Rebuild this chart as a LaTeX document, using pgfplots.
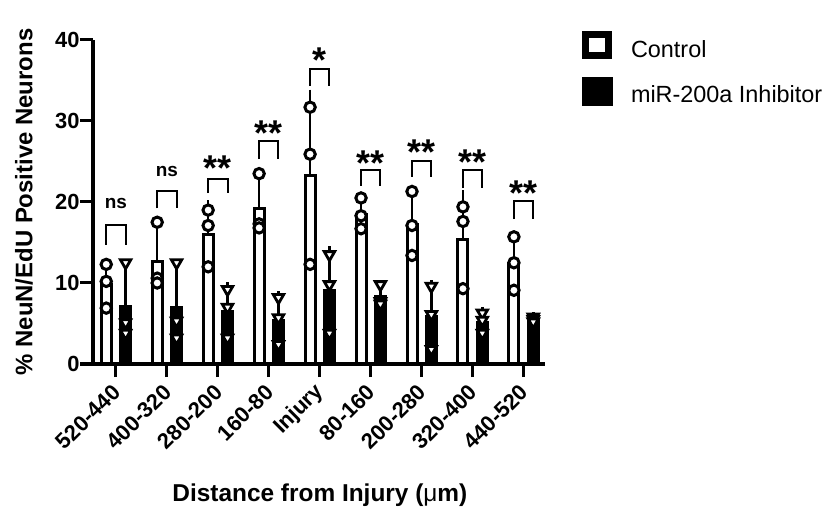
\documentclass[border=0pt]{standalone}
\usepackage{fontspec}
\setmainfont{Liberation Sans}
\usepackage{pgfplots}
\usepackage{pgfplotstable}
\pgfplotsset{compat=1.18}

% bars: x position, mean, SD
\pgfplotstableread{
x m e
-0.19 9.80 2.72
0.81 12.70 4.17
1.81 16.00 3.62
2.81 19.20 3.73
3.81 23.30 9.96
4.81 18.50 1.91
5.81 17.27 3.95
6.81 15.43 5.39
7.81 12.43 3.30
}\ctrlbars
\pgfplotstableread{
x m e
0.19 7.13 4.69
1.19 7.00 4.88
2.19 6.43 3.02
3.19 5.43 2.91
4.19 9.03 4.90
5.19 8.30 1.31
6.19 5.83 3.90
7.19 5.17 1.27
8.19 5.50 0.30
}\inhbars
\pgfplotstableread{
x y
-0.19 12.3
-0.19 10.2
-0.19 6.9
0.81 17.5
0.81 10.6
0.81 10.0
1.81 19.0
1.81 17.1
1.81 12.0
2.81 23.5
2.81 17.3
2.81 16.8
3.81 31.7
3.81 25.9
3.81 12.3
4.81 20.5
4.81 18.3
4.81 16.7
5.81 21.3
5.81 17.1
5.81 13.4
6.81 19.4
6.81 17.6
6.81 9.3
7.81 15.7
7.81 12.5
7.81 9.1
}\ctrlpts
\pgfplotstableread{
x y
0.19 12.5
0.19 5.1
0.19 3.8
1.19 12.5
1.19 5.3
1.19 3.2
2.19 9.2
2.19 7.0
2.19 3.2
3.19 8.2
3.19 5.7
3.19 2.4
4.19 13.5
4.19 9.8
4.19 3.8
5.19 9.8
5.19 7.7
5.19 7.4
6.19 9.6
6.19 6.1
6.19 1.8
7.19 6.3
7.19 5.4
7.19 3.8
8.19 5.8
8.19 5.5
8.19 5.2
}\inhpts

\begin{document}
\begin{tikzpicture}
\useasboundingbox (0,0) rectangle (833bp,510bp);
\begin{axis}[
  at={(93bp,146bp)}, anchor=south west,
  scale only axis, width=452bp, height=324bp,
  xmin=-0.45, xmax=8.42, ymin=0, ymax=40,
  clip=false,
  axis x line*=bottom, axis y line*=left,
  axis line style={-, line width=3bp, black},
  tick align=outside, major tick length=13bp,
  tick style={line width=3bp, black},
  xtick={0,1,2,3,4,5,6,7,8},
  xticklabels={520-440,400-320,280-200,160-80,Injury,80-160,200-280,320-400,440-520},
  ytick={0,10,20,30,40},
  yticklabels={0,10,20,30,40},
  yticklabel style={font=\bfseries\fontsize{22}{22}\selectfont, xshift=3bp},
  xticklabel style={font=\bfseries\fontsize{22}{22}\selectfont, yshift=-9bp, xshift=3bp, rotate=45, anchor=east},
  ylabel={\% NeuN/EdU Positive Neurons},
  ylabel style={font=\bfseries\fontsize{24}{24}\selectfont, at={(axis description cs:-0.153,0.5)}, anchor=center},
  xlabel={Distance from Injury ({\mdseries μ}m)},
  xlabel style={font=\bfseries\fontsize{24.5}{24.5}\selectfont, at={(axis description cs:0.502,-0.425)}, anchor=base},
  legend style={draw=none, fill=none, inner sep=0pt, outer sep=0pt,
    at={(1.081,1.029)}, anchor=north west,
    font=\fontsize{23.5}{23.5}\selectfont, row sep=18bp,
    /tikz/every odd column/.append style={column sep=19bp},
    nodes={inner sep=0pt}},
  legend cell align=left,
]
% bars
\addplot[forget plot, ybar, bar width=10bp, bar shift=0pt, fill=white, draw=black, line width=3bp,
  error bars/.cd, y dir=plus, y explicit,
  error bar style={line width=2.5bp, black},
  error mark options={line width=2.5bp, mark size=5bp, black}]
  table[x=x, y=m, y error=e] {\ctrlbars};
\addplot[forget plot, ybar, bar width=10bp, bar shift=0pt, fill=black, draw=black, line width=3bp,
  error bars/.cd, y dir=plus, y explicit,
  error bar style={line width=2.5bp, black},
  error mark options={line width=2.5bp, mark size=5bp, black}]
  table[x=x, y=m, y error=e] {\inhbars};
% points
\addplot[forget plot, only marks, mark=*, mark size=5.2bp,
  mark options={fill=white, draw=black, line width=3bp}]
  table[x=x, y=y] {\ctrlpts};
\addplot[forget plot, only marks, mark=triangle*, mark size=6bp,
  mark options={rotate=180, fill=white, draw=black, line width=2.8bp}]
  table[x=x, y=y] {\inhpts};
% significance brackets
\foreach \g/\t/\b in {0/17.2/14.7, 1/21.3/19.2, 2/22.8/21.1, 3/27.5/25.3, 4/36.4/34.3, 5/23.9/22.0, 6/25.0/23.1, 7/23.9/21.7, 8/20.1/17.9}{
  \edef\tmp{\noexpand\draw[line width=2bp, black] (axis cs:\g-0.19,\b) -- (axis cs:\g-0.19,\t) -- (axis cs:\g+0.19,\t) -- (axis cs:\g+0.19,\b);}
  \tmp
}
\node[anchor=base, yshift=-6bp, font=\bfseries\fontsize{19}{19}\selectfont] at (axis cs:0,19.9) {ns};
\node[anchor=base, yshift=-6bp, font=\bfseries\fontsize{19}{19}\selectfont] at (axis cs:1,23.9) {ns};
\node[anchor=base, yshift=-21bp, font=\bfseries\fontsize{36}{36}\selectfont] at (axis cs:2,25.2) {**};
\node[anchor=base, yshift=-21bp, font=\bfseries\fontsize{36}{36}\selectfont] at (axis cs:3,29.6) {**};
\node[anchor=base, yshift=-21bp, font=\bfseries\fontsize{36}{36}\selectfont] at (axis cs:4,38.6) {*};
\node[anchor=base, yshift=-21bp, font=\bfseries\fontsize{36}{36}\selectfont] at (axis cs:5,25.9) {**};
\node[anchor=base, yshift=-21bp, font=\bfseries\fontsize{36}{36}\selectfont] at (axis cs:6,27.2) {**};
\node[anchor=base, yshift=-21bp, font=\bfseries\fontsize{36}{36}\selectfont] at (axis cs:7,26.0) {**};
\node[anchor=base, yshift=-21bp, font=\bfseries\fontsize{36}{36}\selectfont] at (axis cs:8,22.2) {**};
% legend
\addlegendimage{legend image code/.code={\draw[line width=7bp, black, fill=white] (3.5bp,-4.9bp) rectangle (26.5bp,16.1bp);}}
\addlegendentry{Control}
\addlegendimage{legend image code/.code={\fill[black] (0bp,-10.4bp) rectangle (30bp,17.6bp);}}
\addlegendentry{miR-200a Inhibitor}
\end{axis}
\end{tikzpicture}
\end{document}
